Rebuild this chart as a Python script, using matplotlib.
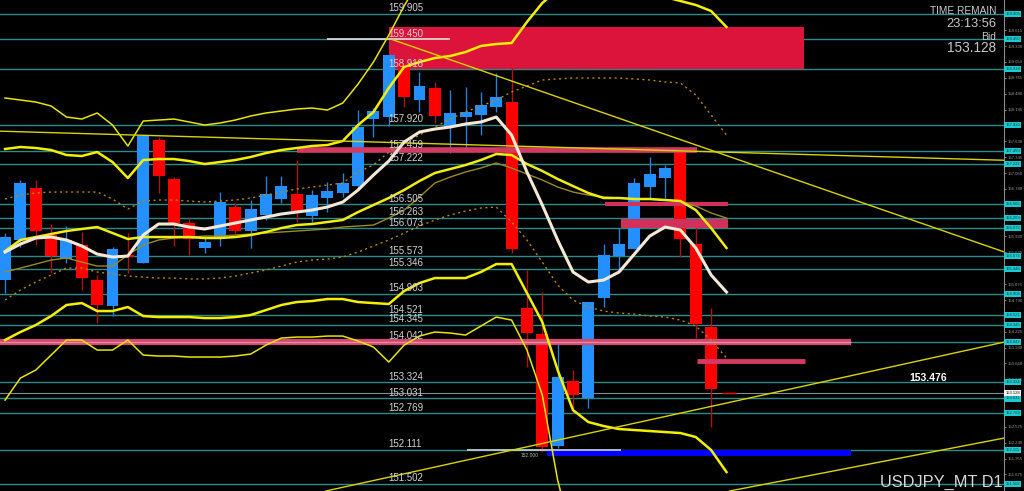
import matplotlib
matplotlib.use("Agg")
import matplotlib.pyplot as plt
from matplotlib.patches import Rectangle

plt.rcParams['font.family'] = ['Liberation Sans', 'DejaVu Sans']

# --- candles (daily USDJPY) ---
opens = [155.149, 155.864, 156.794, 155.953, 155.524, 155.774, 155.149, 154.684, 155.596, 155.453,
         157.652, 156.955, 156.168, 155.721, 155.882, 156.454, 156.025, 156.311, 156.597, 156.686,
         156.293, 156.615, 156.704, 156.829, 158.027, 158.063, 159.011, 158.367, 158.582, 157.884,
         158.063, 158.099, 158.242, 158.331, 154.648, 154.183, 152.181, 153.343, 153.039, 154.827,
         155.578, 155.703, 156.811, 156.972, 157.473, 155.792, 154.308]
closes = [155.917, 156.883, 156.025, 155.578, 155.864, 155.184, 154.702, 155.703, 155.560, 157.723,
          157.008, 156.168, 155.882, 155.828, 156.543, 156.025, 156.418, 156.686, 156.829, 156.382,
          156.668, 156.740, 156.883, 157.884, 158.170, 159.172, 158.421, 158.617, 158.081, 158.135,
          158.152, 158.278, 158.421, 155.703, 154.201, 152.163, 153.414, 153.092, 154.755, 155.596,
          155.792, 156.883, 157.044, 157.151, 155.882, 154.362, 153.200]
highs = [155.989, 156.937, 156.937, 156.150, 156.114, 156.007, 155.238, 155.739, 155.989, 157.730,
         157.706, 156.990, 156.257, 155.935, 156.722, 156.525, 156.579, 157.008, 157.008, 157.294,
         156.758, 156.901, 157.062, 158.188, 158.224, 159.180, 159.082, 158.868, 158.689, 158.546,
         158.599, 158.510, 158.850, 158.939, 155.327, 154.934, 154.022, 153.539, 154.760, 155.792,
         156.078, 156.972, 157.348, 157.205, 157.509, 156.096, 154.648]
lows = [154.916, 155.739, 155.774, 155.274, 155.453, 154.970, 154.380, 154.505, 155.274, 155.450,
        156.704, 155.757, 155.596, 155.631, 155.757, 155.989, 155.721, 156.221, 156.525, 156.186,
        156.186, 156.364, 156.633, 156.758, 157.705, 157.902, 158.242, 158.152, 157.956, 157.419,
        157.437, 157.741, 158.152, 155.631, 153.593, 152.080, 152.150, 152.771, 152.860, 154.666,
        155.327, 155.700, 156.615, 156.615, 155.560, 154.112, 152.520]

# --- indicator lines, one value per bar ---
ma_fast = [155.649, 155.792, 155.900, 155.917, 155.864, 155.757, 155.613, 155.560, 155.578, 155.953,
           156.150, 156.150, 156.096, 156.061, 156.114, 156.168, 156.222, 156.275, 156.329, 156.364,
           156.400, 156.454, 156.543, 156.758, 157.026, 157.276, 157.616, 157.795, 157.848, 157.884,
           157.938, 157.974, 158.063, 157.741, 157.080, 156.490, 155.864, 155.292, 155.113, 155.149,
           155.292, 155.613, 155.935, 156.096, 156.043, 155.721, 155.238, 154.934]
band_mid = [155.667, 155.864, 155.917, 155.971, 156.025, 156.061, 156.096, 155.989, 155.882, 155.917,
            155.917, 155.917, 155.917, 155.900, 155.900, 155.917, 155.953, 156.007, 156.078, 156.132,
            156.150, 156.186, 156.222, 156.364, 156.490, 156.615, 156.758, 156.919, 157.062, 157.133,
            157.205, 157.294, 157.402, 157.384, 157.223, 157.098, 156.955, 156.829, 156.704, 156.615,
            156.615, 156.597, 156.597, 156.579, 156.561, 156.400, 156.078, 155.721]
band_up1 = [157.491, 157.527, 157.509, 157.473, 157.384, 157.366, 157.437, 157.258, 156.972, 157.294,
            157.312, 157.312, 157.276, 157.223, 157.258, 157.294, 157.348, 157.419, 157.473, 157.509,
            157.545, 157.562, 157.634, 157.920, 158.152, 158.582, 158.957, 159.046, 159.118, 159.154,
            159.225, 159.333, 159.368, 159.386, 159.762, 160.101, 160.334, 160.423, 160.477, 160.477,
            160.423, 160.370, 160.298, 160.209, 160.137, 160.066, 159.958, 159.672]
band_lo1 = [154.076, 154.219, 154.344, 154.505, 154.702, 154.737, 154.594, 154.594, 154.666, 154.505,
            154.487, 154.487, 154.487, 154.469, 154.469, 154.487, 154.523, 154.612, 154.702, 154.755,
            154.773, 154.809, 154.809, 154.755, 154.737, 154.720, 154.952, 155.095, 155.184, 155.184,
            155.184, 155.292, 155.434, 155.434, 154.916, 154.398, 153.539, 152.824, 152.610, 152.538,
            152.485, 152.467, 152.449, 152.431, 152.413, 152.342, 152.109, 151.716]
band_up2 = [158.403, 158.367, 158.331, 158.260, 158.063, 158.027, 158.135, 157.920, 157.545, 157.991,
            158.009, 158.027, 157.974, 157.920, 157.956, 158.009, 158.081, 158.135, 158.170, 158.206,
            158.224, 158.188, 158.313, 158.653, 159.046, 159.529, 160.048, 160.513]
band_lo2 = [153.003, 153.396, 153.539, 153.807, 154.076, 154.076, 153.897, 153.897, 154.076, 153.807,
            153.790, 153.790, 153.772, 153.772, 153.772, 153.790, 153.825, 153.986, 154.111, 154.129,
            154.129, 154.147, 154.147, 154.058, 153.951, 153.682, 153.986, 154.147, 154.219, 154.201,
            154.165, 154.326, 154.487, 154.433, 153.897, 153.093, 151.573, 150.500]
env_up = [156.597, 156.668, 156.704, 156.722, 156.722, 156.722, 156.722, 156.597, 156.418, 156.561,
          156.579, 156.579, 156.561, 156.543, 156.561, 156.579, 156.615, 156.668, 156.722, 156.776,
          156.811, 156.847, 156.883, 157.080, 157.205, 157.437, 157.598, 157.741, 157.884, 158.027,
          158.152, 158.260, 158.367, 158.510, 158.617, 158.725, 158.743, 158.760, 158.760, 158.760,
          158.760, 158.743, 158.725, 158.689, 158.671, 158.456, 158.099, 157.741]
env_lo = [154.791, 154.970, 155.113, 155.238, 155.363, 155.363, 155.292, 155.256, 155.220, 155.202,
          155.184, 155.184, 155.167, 155.167, 155.184, 155.220, 155.274, 155.327, 155.399, 155.470,
          155.506, 155.524, 155.560, 155.649, 155.757, 155.864, 155.989, 156.114, 156.222, 156.311,
          156.382, 156.436, 156.454, 156.186, 155.864, 155.470, 155.059, 154.791, 154.666, 154.594,
          154.558, 154.541, 154.505, 154.487, 154.433, 154.326, 154.076, 153.754]
ma_slow = [155.292, 155.363, 155.434, 155.506, 155.542, 155.470, 155.399, 155.399, 155.596, 155.774,
           155.864, 155.900, 155.917, 155.935, 155.935, 155.953, 155.971, 155.989, 156.007, 156.025,
           156.043, 156.061, 156.096, 156.114, 156.132, 156.257, 156.400, 156.633, 156.883, 156.990,
           157.080, 157.151, 157.241, 157.151, 157.044, 156.937, 156.812, 156.722, 156.668, 156.633,
           156.615, 156.597, 156.597, 156.579, 156.561, 156.472, 156.347, 156.257]

# --- drawn objects ---
levels = [159.905, 159.450, 158.918, 157.920, 157.459, 157.222, 156.505, 156.263, 156.073, 155.573,
          155.346, 154.903, 154.521, 154.345, 154.042, 153.324, 153.031, 152.769, 152.111, 151.502]
# scale labels not hidden behind the level boxes
axis_ticks = [159.615, 159.330, 159.050, 158.765, 158.480, 158.195, 157.630, 157.345, 157.060,
              156.780, 155.930, 155.645, 155.075, 154.790, 154.225,
              153.940, 153.660, 153.375, 152.525, 152.240, 151.955, 151.675]
trend_lines = [([-0.3, 65.1], [157.81, 157.29]),
               ([25.2, 65.1], [159.45, 155.65]),
               ([20.9, 65.1], [151.377, 154.04]),
               ([47.2, 65.1], [151.377, 152.324])]
bid = 153.128
low_mark = 152.000

BG = '#000000'
TEAL = '#2e8a88'
BLUE = '#2490ff'
RED = '#ff0000'

fig = plt.figure(figsize=(10.24, 4.91), dpi=100, facecolor=BG)
ax = fig.add_axes([0, 0, 1004 / 1024, 1])
ax.set_facecolor(BG)
ax.set_xlim(-0.33, 65.08)
ax.set_ylim(151.377, 160.155)

# horizontal levels
for lv in levels:
    ax.axhline(lv, color=TEAL, lw=1, zorder=1)
    ax.text(24.95, lv + 0.01, f"{lv:.3f}", ha='left', va='bottom', fontsize=7,
            color='#d2d2d2', zorder=7)
ax.axhline(bid, color='#7f8f8f', lw=0.8, zorder=1)

# zones
ax.add_patch(Rectangle((25.0, 158.918), 27.05, 159.672 - 158.918, fc='#dc143c', ec='none', zorder=1.5))
ax.add_patch(Rectangle((39.1, 156.472), 8.0, 0.071, fc='#d0305a', ec='none', zorder=4))
ax.add_patch(Rectangle((40.1, 156.078), 7.0, 0.161, fc='#d0305a', ec='none', zorder=4))
ax.add_patch(Rectangle((35.3, low_mark), 19.8, 152.111 - low_mark, fc='#0000ff', ec='none', zorder=4))
ax.hlines(152.111, 30.1, 40.1, color='#c8d4dc', lw=1.2, zorder=4.5)
ax.hlines(159.450, 21.0, 29.0, color='#e0e0e0', lw=1.2, zorder=2)
ax.hlines(157.47, 19.0, 45.1, color='#d23a62', lw=4, zorder=4)
ax.hlines(154.042, -0.4, 55.1, color='#d04a70', lw=4.5, zorder=4)
ax.hlines(154.042, -0.4, 55.1, color='#e88aa0', lw=1, zorder=4.1)
ax.hlines(153.71, 45.1, 52.1, color='#d23a62', lw=3.5, zorder=4)
ax.text(34.2, low_mark + 0.01, f"{low_mark:.3f}", fontsize=3.5, color='#b0b0b0',
        ha='center', va='center', zorder=7)

# candles
for i, (o, h, l, c) in enumerate(zip(opens, highs, lows, closes)):
    up = c >= o
    col = BLUE if up else RED
    ax.vlines(i, l, h, color='#2a7fd8' if up else '#b01010', lw=1, zorder=2.9)
    ax.bar(i, max(abs(c - o), 0.02), bottom=min(o, c), width=0.78, color=col,
           linewidth=0, zorder=3)
ax.hlines(bid, 46.7, 47.6, color=RED, lw=1, zorder=3)

# indicator lines
xs = list(range(len(ma_fast)))
ax.plot(xs, band_up1, color='#f2f000', lw=1.8, zorder=5)
ax.plot(xs, band_lo1, color='#f2f000', lw=1.8, zorder=5)
ax.plot(xs[:len(band_up2)], band_up2, color='#e6e600', lw=1.1, zorder=5)
ax.plot(xs[:len(band_lo2)], band_lo2, color='#e6e600', lw=1.1, zorder=5)
ax.plot(xs, env_up, color='#b8860b', lw=1, ls=(0, (1.5, 2.5)), zorder=5)
ax.plot(xs, env_lo, color='#b8860b', lw=1, ls=(0, (1.5, 2.5)), zorder=5)
ax.plot(xs, ma_slow, color='#9c8a24', lw=1, zorder=5)
ax.plot(xs, band_mid, color='#f0ee10', lw=1.8, zorder=5)
ax.plot(xs, ma_fast, color='#f5e8d4', lw=2.2, zorder=6)
for tx, ty in trend_lines:
    ax.plot(tx, ty, color='#d8d400', lw=1, zorder=5)

# right price axis
for s in ['top', 'left', 'bottom']:
    ax.spines[s].set_visible(False)
ax.spines['right'].set_color('#8a8a8a')
ax.set_xticks([])
ax.yaxis.tick_right()
ax.set_yticks(axis_ticks)
ax.set_yticklabels([f"{t:.3f}" for t in axis_ticks])
ax.tick_params(axis='y', colors='#9a9a9a', labelsize=3.1, length=1.5, width=0.6, pad=1)
trans = ax.get_yaxis_transform()
for lv in levels:
    ax.text(1.0015, lv, f"{lv:.3f}", transform=trans, ha='left', va='center', fontsize=3.0,
            color='#0a4040', zorder=8, clip_on=False,
            bbox=dict(boxstyle='square,pad=0.25', fc='#1ccad0', ec='none'))
ax.text(1.0015, bid, f"{bid:.3f}", transform=trans, ha='left', va='center', fontsize=3.0,
        color='#202020', zorder=8, clip_on=False,
        bbox=dict(boxstyle='square,pad=0.25', fc='#f0f0f0', ec='none'))

# info texts
info = ['Liberation Sans Narrow', 'Liberation Sans', 'DejaVu Sans']
fig.text(996 / 1024, 1 - 11.5 / 491, 'TIME REMAIN', ha='right', va='center', fontsize=7.3,
         color='#c8c8c8', family=info)
fig.text(996 / 1024, 1 - 24 / 491, '23:13:56', ha='right', va='center', fontsize=9.3,
         color='#c8c8c8', family=info)
fig.text(996 / 1024, 1 - 36.5 / 491, 'Bid', ha='right', va='center', fontsize=7.5,
         color='#c8c8c8', family=info)
fig.text(996 / 1024, 1 - 48.5 / 491, f"{bid:.3f}", ha='right', va='center', fontsize=9.8,
         color='#c8c8c8', family=info)
fig.text(928 / 1024, 1 - 378 / 491, '153.476', ha='center', va='center', fontsize=7.5,
         fontweight='bold', color='#ffffff')
fig.text(1002 / 1024, 1 - 482 / 491, 'USDJPY_MT D1', ha='right', va='center', fontsize=11.8,
         color='#d8d8d8', family=info)

fig.savefig('out.png', dpi=100, facecolor=BG)
